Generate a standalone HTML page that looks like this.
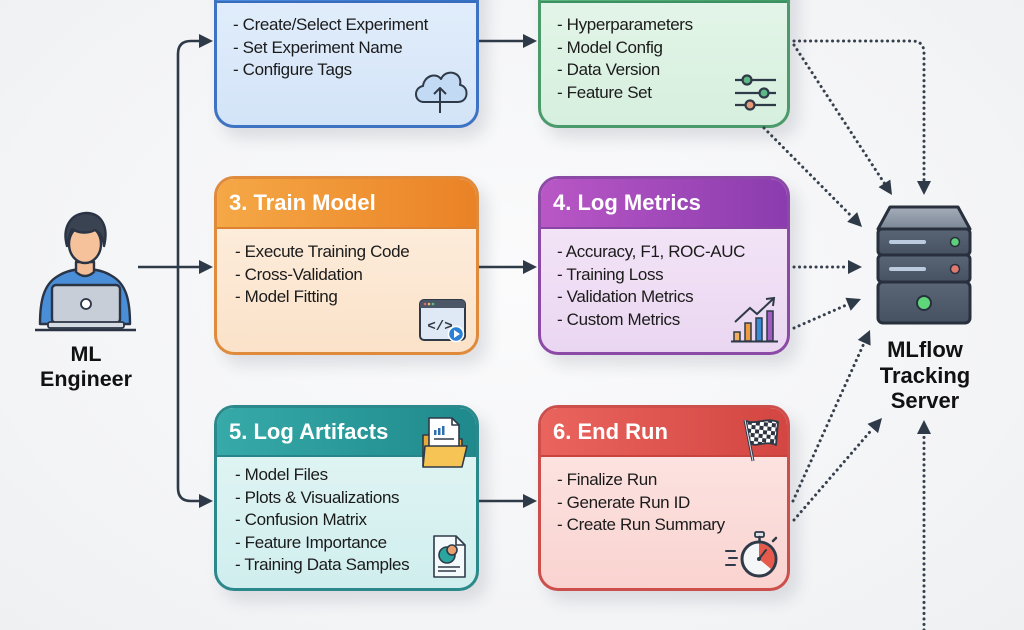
<!DOCTYPE html>
<html><head><meta charset="utf-8">
<style>
*{margin:0;padding:0;box-sizing:border-box}
html,body{width:1024px;height:630px;overflow:hidden}
body{background:radial-gradient(ellipse at 50% 45%,#fbfbfc 0%,#f3f4f6 70%,#eef0f2 100%);font-family:"Liberation Sans",Arial,sans-serif;position:relative}
.box{position:absolute;border:3px solid;border-radius:20px;overflow:hidden;box-shadow:8px 10px 16px rgba(40,50,70,0.13)}
.hdr{position:absolute;left:0;right:0;top:0}
.t{position:absolute;font-size:17px;letter-spacing:-0.35px;line-height:22.6px;color:#1b1b1b;white-space:nowrap}
.h{position:absolute;font-size:22px;line-height:26px;font-weight:bold;color:#fff;white-space:nowrap}
.lbl{position:absolute;font-size:21.5px;line-height:24.5px;font-weight:bold;color:#111;text-align:center;white-space:nowrap}
svg{position:absolute;left:0;top:0}
</style></head><body>

<!-- Box 1 blue -->
<div class="box" style="left:214px;top:-47px;width:265px;height:175px;border-color:#3e72c2;background:linear-gradient(180deg,#e6f0fc,#d3e4f8)">
  <div class="hdr" style="height:47px;background:linear-gradient(90deg,#4a8be0,#3570c8);border-bottom:2px solid #3a6cbc"></div>
</div>
<!-- Box 2 green -->
<div class="box" style="left:538px;top:-47px;width:252px;height:175px;border-color:#4a9a6c;background:linear-gradient(180deg,#e8f7ec,#d6efde)">
  <div class="hdr" style="height:47px;background:linear-gradient(90deg,#5bb67e,#3f9a66);border-bottom:2px solid #3e9062"></div>
</div>
<!-- Box 3 orange -->
<div class="box" style="left:214px;top:176px;width:265px;height:179px;border-color:#e08a3c;background:linear-gradient(180deg,#fdf0e1,#fbe2c9)">
  <div class="hdr" style="height:50px;background:linear-gradient(90deg,#f5a846,#ea8226);border-bottom:2px solid #de8232"></div>
</div>
<!-- Box 4 purple -->
<div class="box" style="left:538px;top:176px;width:252px;height:179px;border-color:#8b4aa6;background:linear-gradient(180deg,#f6e9f9,#ead6f1)">
  <div class="hdr" style="height:50px;background:linear-gradient(90deg,#b957c6,#8b3cae);border-bottom:2px solid #8a45a6"></div>
</div>
<!-- Box 5 teal -->
<div class="box" style="left:214px;top:405px;width:265px;height:186px;border-color:#2b898c;background:linear-gradient(180deg,#e4f6f5,#d0eeee)">
  <div class="hdr" style="height:49px;background:linear-gradient(90deg,#36aaa8,#1f898c);border-bottom:2px solid #27868a"></div>
</div>
<!-- Box 6 red -->
<div class="box" style="left:538px;top:405px;width:252px;height:186px;border-color:#cc4f4b;background:linear-gradient(180deg,#fde8e6,#f9d3d0)">
  <div class="hdr" style="height:49px;background:linear-gradient(90deg,#ea645e,#d34642);border-bottom:2px solid #c9443f"></div>
</div>

<!-- Headers -->
<div class="h" style="left:229px;top:190px">3. Train Model</div>
<div class="h" style="left:553px;top:190px">4. Log Metrics</div>
<div class="h" style="left:229px;top:419px">5. Log Artifacts</div>
<div class="h" style="left:553px;top:419px">6. End Run</div>

<!-- Body text -->
<div class="t" style="left:233px;top:14px">- Create/Select Experiment<br>- Set Experiment Name<br>- Configure Tags</div>
<div class="t" style="left:557px;top:14px">- Hyperparameters<br>- Model Config<br>- Data Version<br>- Feature Set</div>
<div class="t" style="left:235px;top:241px">- Execute Training Code<br>- Cross-Validation<br>- Model Fitting</div>
<div class="t" style="left:557px;top:241px">- Accuracy, F1, ROC-AUC<br>- Training Loss<br>- Validation Metrics<br>- Custom Metrics</div>
<div class="t" style="left:235px;top:464px">- Model Files<br>- Plots &amp; Visualizations<br>- Confusion Matrix<br>- Feature Importance<br>- Training Data Samples</div>
<div class="t" style="left:557px;top:469px">- Finalize Run<br>- Generate Run ID<br>- Create Run Summary</div>

<div class="lbl" style="left:26px;width:120px;top:342px">ML<br>Engineer</div>
<div class="lbl" style="left:865px;width:120px;top:337px;font-size:22px;line-height:25.5px">MLflow<br>Tracking<br>Server</div>

<svg width="1024" height="630" viewBox="0 0 1024 630">
<defs>
  <pattern id="chk" width="8" height="8" patternUnits="userSpaceOnUse" patternTransform="rotate(6)">
    <rect width="8" height="8" fill="#fff"/>
    <rect width="4" height="4" fill="#2e3440"/>
    <rect x="4" y="4" width="4" height="4" fill="#2e3440"/>
  </pattern>
  <linearGradient id="srvTop" x1="0" y1="0" x2="0" y2="1"><stop offset="0" stop-color="#a4adb9"/><stop offset="1" stop-color="#7c8796"/></linearGradient>
  <linearGradient id="srvU" x1="0" y1="0" x2="0" y2="1"><stop offset="0" stop-color="#5a6676"/><stop offset="1" stop-color="#465262"/></linearGradient>
</defs>

<!-- Solid connectors -->
<g stroke="#2e3a48" stroke-width="2.6" fill="none">
  <path d="M200 41 H191 Q178 41 178 54 V488 Q178 501 191 501 H200"/>
  <path d="M138 267 H200"/>
  <path d="M479 41 H524"/>
  <path d="M479 267 H524"/>
  <path d="M479 501 H524"/>
</g>
<g fill="#2e3a48">
  <polygon points="213,41 199,34 199,48"/>
  <polygon points="213,267 199,260 199,274"/>
  <polygon points="213,501 199,494 199,508"/>
  <polygon points="537,41 523,34 523,48"/>
  <polygon points="537,267 523,260 523,274"/>
  <polygon points="537,501 523,494 523,508"/>
</g>

<!-- Dotted connectors -->
<g stroke="#36404d" stroke-width="3" fill="none" stroke-linecap="round" stroke-dasharray="0.1 5.4">
  <path d="M794 41 H912 Q924 41 924 53 V181"/>
  <path d="M794 45 L884.4 183.3"/>
  <path d="M764 128 L852.2 217"/>
  <path d="M794 267 H848"/>
  <path d="M794 328 L848 304.3"/>
  <path d="M793 501 L864.2 342.8"/>
  <path d="M794 520 L872.8 428.5"/>
  <path d="M924 630 V434"/>
</g>
<g fill="#2e3a48">
  <polygon points="924,195 917,181 931,181"/>
  <polygon points="892,195 878.5,187.1 890.3,179.5"/>
  <polygon points="862,227 847.2,221.9 857.2,212.1"/>
  <polygon points="862,267 848,260 848,274"/>
  <polygon points="861,299 850.7,310.8 845.4,297.8"/>
  <polygon points="870,330 870.6,345.6 857.8,339.9"/>
  <polygon points="882,418 878.1,433.1 867.5,423.9"/>
  <polygon points="924,420 917,434 931,434"/>
</g>

<!-- Person -->
<g stroke="#2a3444" stroke-width="2.4" stroke-linejoin="round">
  <path d="M40 324 C40 300 44 284 58 276 C66 271 74 269 85 269 C96 269 104 271 112 276 C126 284 130 300 130 324 Z" fill="#4a8ed8"/>
  <path d="M76 262 L76 272 Q85 280 94 272 L94 262 Z" fill="#f3bd95"/>
  <ellipse cx="85" cy="244" rx="16" ry="19" fill="#f5c29c"/>
  <path d="M67 246 C62 228 70 214 86 213 C101 213 109 226 104 246 C103 236 99 232 95 230 C88 234 78 233 72 229 C70 234 68 240 67 246 Z" fill="#3a4352"/>
  <rect x="52" y="285" width="68" height="38" rx="4" fill="#c7ced8"/>
  <circle cx="86" cy="304" r="5" fill="#fff" stroke-width="1.8"/>
  <rect x="48" y="322" width="76" height="6" rx="2" fill="#d5dbe3" stroke-width="1.8"/>
</g>
<line x1="35" y1="330" x2="136" y2="330" stroke="#2a3444" stroke-width="2.6"/>

<!-- Server -->
<g stroke="#27303c" stroke-width="3" stroke-linejoin="round">
  <path d="M878 229 L890 207 H958 L970 229 Z" fill="url(#srvTop)"/>
  <rect x="878" y="229" width="92" height="26" rx="4" fill="url(#srvU)"/>
  <rect x="878" y="255" width="92" height="27" rx="4" fill="url(#srvU)"/>
  <rect x="878" y="282" width="92" height="41" rx="5" fill="url(#srvU)"/>
</g>
<rect x="889" y="240" width="37" height="4" rx="2" fill="#bccbe0"/>
<rect x="889" y="267" width="37" height="4" rx="2" fill="#bccbe0"/>
<circle cx="955" cy="242" r="4.5" fill="#5fd07a" stroke="#27303c" stroke-width="1.5"/>
<circle cx="955" cy="269" r="4.5" fill="#e07a70" stroke="#27303c" stroke-width="1.5"/>
<circle cx="924" cy="303" r="7" fill="#5fd67a" stroke="#27303c" stroke-width="2"/>

<!-- Cloud icon (box 1) -->
<g stroke="#2e3a48" stroke-width="2" stroke-linejoin="round" fill="none">
  <path d="M424 102 C414 102 413 88 423 86 C424 76 436 72 441 79 C446 68 463 72 460 85 C469 86 469 102 458 102 Z" fill="#c2daf3"/>
  <path d="M440 113 V88 M434 94 L440 88 L446 94"/>
</g>

<!-- Sliders icon (box 2) -->
<g stroke="#2e3a48" stroke-width="2.2">
  <line x1="735" y1="80" x2="776" y2="80"/>
  <line x1="735" y1="93" x2="776" y2="93"/>
  <line x1="735" y1="105" x2="776" y2="105"/>
  <circle cx="747" cy="80" r="4.5" fill="#5cb884"/>
  <circle cx="764" cy="93" r="4.5" fill="#5cb884"/>
  <circle cx="750" cy="105" r="4.5" fill="#e59a78"/>
</g>

<!-- Code window icon (box 3) -->
<g>
  <rect x="420" y="300" width="45" height="40" rx="4" fill="#dfe9f5" stroke="#2e3a48" stroke-width="2"/>
  <path d="M424 300 H461 Q465 300 465 304 V308 H420 V304 Q420 300 424 300 Z" fill="#4b5666"/>
  <circle cx="425" cy="304" r="1.3" fill="#e06a6a"/><circle cx="429" cy="304" r="1.3" fill="#e0c060"/><circle cx="433" cy="304" r="1.3" fill="#60c080"/>
  <text x="440" y="330" font-family="Liberation Mono, monospace" font-size="14" font-weight="bold" fill="#2e3a48" text-anchor="middle">&lt;/&gt;</text>
  <circle cx="456" cy="334" r="7.5" fill="#2a7fd6" stroke="#fff" stroke-width="1.5"/>
  <polygon points="454,330 454,338 460,334" fill="#fff"/>
</g>

<!-- Chart icon (box 4) -->
<g stroke="#2e3a48" stroke-width="1.5">
  <rect x="734" y="332" width="6" height="9" fill="#f0b060"/>
  <rect x="745" y="323" width="6" height="18" fill="#ee9a40"/>
  <rect x="756" y="318" width="6" height="23" fill="#3a8ad6"/>
  <rect x="767" y="311" width="6" height="30" fill="#a05cc0"/>
  <line x1="731" y1="341.5" x2="778" y2="341.5" stroke-width="2"/>
  <polyline points="735,322 750,308 757,314 773,299" fill="none" stroke-width="2"/>
  <polyline points="766,299 774,298 773,306" fill="none" stroke-width="2"/>
</g>

<!-- Folder icon (box 5 header) -->
<g stroke="#2e3a48" stroke-width="1.6" stroke-linejoin="round">
  <path d="M423 435 H437 L440 439 H462 V466 H423 Z" fill="#e7a93a"/>
  <path d="M429 418 H452 L459 425 V452 H429 Z" fill="#fff"/>
  <path d="M452 418 V425 H459" fill="none"/>
  <rect x="434" y="430" width="2.5" height="5" fill="#2e6fb0" stroke="none"/>
  <rect x="438" y="428" width="2.5" height="7" fill="#2e6fb0" stroke="none"/>
  <rect x="442" y="426" width="2.5" height="9" fill="#2e6fb0" stroke="none"/>
  <line x1="434" y1="439" x2="454" y2="439"/>
  <path d="M425 446 H467 L462 467 H423 Z" fill="#f6c454"/>
</g>

<!-- Doc icon (box 5 body) -->
<g stroke="#2e3a48" stroke-width="1.6" stroke-linejoin="round">
  <path d="M434 536 H456 L465 545 V577 H434 Z" fill="#f4f9fb"/>
  <path d="M456 536 V545 H465" fill="none"/>
  <circle cx="447" cy="555" r="8" fill="#2aa5a0"/>
  <circle cx="452" cy="550" r="5" fill="#e9a070"/>
  <line x1="438" y1="567" x2="460" y2="567"/>
  <line x1="438" y1="571" x2="456" y2="571"/>
</g>

<!-- Flag icon (box 6) -->
<g stroke="#2e3a48" stroke-linejoin="round">
  <path d="M746 421 C756 425 766 417 778 422 L776 445 C765 440 756 448 750 443 Z" fill="url(#chk)" stroke-width="1.8"/>
  <line x1="745" y1="420" x2="753" y2="461" stroke-width="3"/>
  <line x1="745" y1="420" x2="753" y2="461" stroke="#dfe3e8" stroke-width="1"/>
</g>

<!-- Stopwatch icon (box 6) -->
<g stroke="#2e3a48" stroke-linecap="round">
  <rect x="755" y="532" width="9" height="5" rx="1.5" fill="#dfe3e8" stroke-width="1.8"/>
  <line x1="759.5" y1="537" x2="759.5" y2="541" stroke-width="2.5"/>
  <line x1="773" y1="541" x2="776" y2="538" stroke-width="2.5"/>
  <circle cx="759" cy="559" r="17" fill="#f4f6f8" stroke-width="3"/>
  <path d="M759 559 L759 543.5 A15.5 15.5 0 0 1 771 569 Z" fill="#e55a4a" stroke="none"/>
  <line x1="759" y1="559" x2="766" y2="550" stroke-width="2"/>
  <circle cx="759" cy="559" r="2" fill="#2e3a48" stroke="none"/>
  <line x1="726" y1="551" x2="735" y2="551" stroke-width="2"/>
  <line x1="729" y1="558" x2="737" y2="558" stroke-width="2"/>
  <line x1="726" y1="565" x2="735" y2="565" stroke-width="2"/>
</g>
</svg>
</body></html>
